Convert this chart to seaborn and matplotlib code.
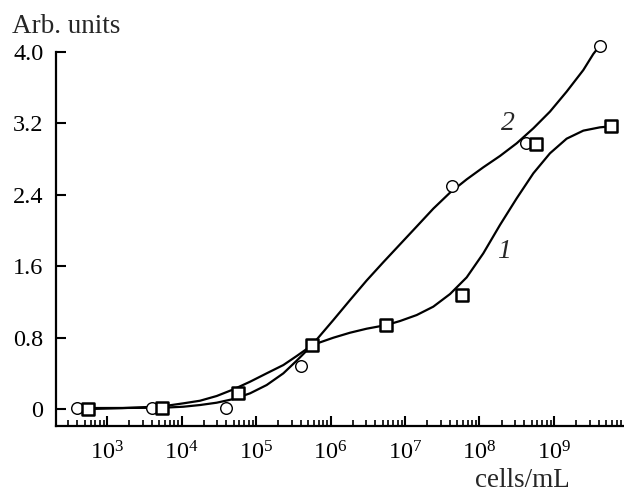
import numpy as np
import pandas as pd
import matplotlib
matplotlib.use("Agg")
import matplotlib.pyplot as plt
import seaborn as sns
from matplotlib.ticker import FixedLocator, NullFormatter

# ---- data (x as log10 cells/mL) ----
sq_logx = [2.745, 3.743, 4.763, 5.756, 6.749, 7.761, 8.754, 9.765]
sq_y = [0.0, 0.007, 0.183, 0.717, 0.941, 1.274, 2.965, 3.167]
ci_logx = [2.60, 3.61, 4.597, 5.600, 7.627, 8.620, 9.617]
ci_y = [0.01, 0.01, 0.015, 0.486, 2.502, 2.977, 4.067]

# smooth curves
c1_logx = [2.745, 3.2, 3.743, 4.025, 4.248, 4.472, 4.696, 4.920, 5.143, 5.367,
           5.546, 5.756, 6.038, 6.262, 6.485, 6.749, 6.933, 7.157, 7.380, 7.604,
           7.828, 8.051, 8.275, 8.499, 8.723, 8.946, 9.170, 9.394, 9.617, 9.765]
c1_y = [0.0, 0.01, 0.03, 0.064, 0.093, 0.146, 0.220, 0.306, 0.400, 0.493,
        0.594, 0.717, 0.799, 0.855, 0.900, 0.941, 0.986, 1.053, 1.147, 1.288,
        1.475, 1.744, 2.062, 2.360, 2.641, 2.865, 3.029, 3.119, 3.156, 3.167]
c2_logx = [2.597, 3.2, 3.756, 4.025, 4.248, 4.472, 4.696, 4.920, 5.143, 5.367,
           5.546, 5.680, 5.756, 6.038, 6.262, 6.485, 6.709, 6.933, 7.157, 7.380,
           7.604, 7.828, 8.051, 8.275, 8.499, 8.723, 8.946, 9.170, 9.394, 9.528,
           9.605]
c2_y = [0.011, 0.012, 0.015, 0.026, 0.045, 0.071, 0.112, 0.176, 0.269, 0.400,
        0.542, 0.654, 0.721, 0.997, 1.221, 1.440, 1.645, 1.845, 2.045, 2.245,
        2.424, 2.573, 2.708, 2.835, 2.977, 3.145, 3.332, 3.556, 3.798, 3.978,
        4.060]

y_ticks = [0, 0.8, 1.6, 2.4, 3.2, 4.0]
y_ticklabels = ["0", "0.8", "1.6", "2.4", "3.2", "4.0"]
x_exponents = [3, 4, 5, 6, 7, 8, 9]
curve_labels = ["1", "2"]

sq = pd.DataFrame({"x": np.power(10.0, sq_logx), "y": sq_y})
ci = pd.DataFrame({"x": np.power(10.0, ci_logx), "y": ci_y})
c1 = pd.DataFrame({"x": np.power(10.0, c1_logx), "y": c1_y})
c2 = pd.DataFrame({"x": np.power(10.0, c2_logx), "y": c2_y})

sns.set_theme(style="ticks")
plt.rcParams["font.family"] = ["Liberation Serif", "DejaVu Serif"]
plt.rcParams["mathtext.fontset"] = "custom"
plt.rcParams["mathtext.rm"] = "Liberation Serif"
plt.rcParams["mathtext.it"] = "Liberation Serif:italic"

FS = 17.5
FS_LAB = 19.5
FS_CURVE = 20
fig = plt.figure(figsize=(6.24, 4.94), dpi=100)
ax = fig.add_axes([56 / 624, 68 / 494, 568 / 624, 374 / 494])

sns.lineplot(data=c1, x="x", y="y", ax=ax, sort=False, estimator=None,
             color="black", lw=1.6, zorder=2, clip_on=False)
sns.lineplot(data=c2, x="x", y="y", ax=ax, sort=False, estimator=None,
             color="black", lw=1.6, zorder=2, clip_on=False)
sns.scatterplot(data=ci, x="x", y="y", ax=ax, marker="o", s=70,
                facecolor="white", edgecolor="black", linewidth=1.0, zorder=3,
                clip_on=False)
sns.scatterplot(data=sq, x="x", y="y", ax=ax, marker="s", s=75,
                facecolor="white", edgecolor="black", linewidth=1.8, zorder=4,
                clip_on=False)

ax.set_xscale("log")
ax.set_xlim(10 ** 2.315, 10 ** 9.94)
ax.set_ylim(-0.19, 4.0)

ax.xaxis.set_major_locator(FixedLocator([10.0 ** e for e in x_exponents]))
ax.set_xticklabels([r"$\mathregular{10^{%d}}$" % e for e in x_exponents])
minors = [m * 10.0 ** e for e in range(2, 10) for m in range(2, 10)]
ax.xaxis.set_minor_locator(FixedLocator(minors))
ax.xaxis.set_minor_formatter(NullFormatter())

ax.set_yticks(y_ticks)
ax.set_yticklabels(y_ticklabels)

for s in ["top", "right"]:
    ax.spines[s].set_visible(False)
for s in ["left", "bottom"]:
    ax.spines[s].set_linewidth(1.6)
    ax.spines[s].set_color("black")

ax.tick_params(axis="both", which="major", direction="in", length=7, width=1.5,
               labelsize=FS, colors="black")
ax.tick_params(axis="x", which="major", pad=11)
ax.tick_params(axis="y", which="major", pad=9)
ax.tick_params(axis="x", which="minor", direction="in", length=4.5, width=1.2,
               colors="black")
ax.set_xlabel("")
ax.set_ylabel("")

ax.text(10 ** 8.387, 3.20, curve_labels[1], fontsize=FS_CURVE, style="italic",
        ha="center", va="center")
ax.text(10 ** 8.33, 1.76, curve_labels[0], fontsize=FS_CURVE, style="italic",
        ha="center", va="center")

fig.text(12 / 624, 1 - 33 / 494, "Arb. units", fontsize=FS_LAB, va="baseline", ha="left")
fig.text(475 / 624, 1 - 487 / 494, "cells/mL", fontsize=FS_LAB, va="baseline", ha="left")

fig.savefig("out.png", dpi=100)
